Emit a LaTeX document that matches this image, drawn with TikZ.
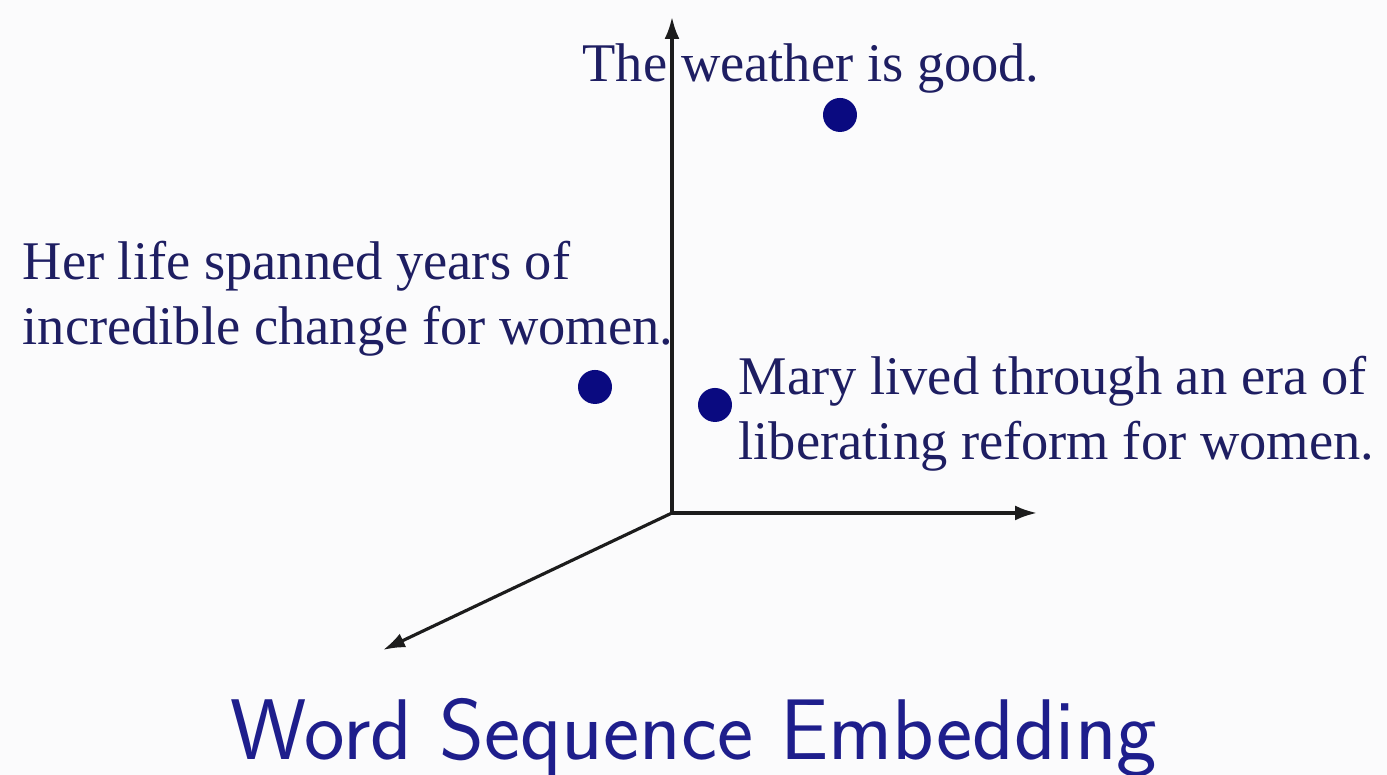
\documentclass[tikz,border=0pt]{standalone}
\usepackage{fontspec}
\newfontfamily\tnr{Liberation Serif}
\usetikzlibrary{arrows.meta}
\definecolor{bg}{HTML}{FBFBFC}
\definecolor{txt}{HTML}{1E1E62}
\definecolor{dotc}{HTML}{0A0A80}
\definecolor{ttl}{HTML}{1E1E8C}
\definecolor{axc}{HTML}{1C1C1C}
\tikzset{
  axis/.style={draw=axc, line width=0.9pt, -{Latex[length=0.22cm,width=0.15cm]}},
  pt/.style={circle, fill=dotc, inner sep=0pt, minimum size=0.34cm},
  lbl/.style={text=txt, inner sep=0pt, anchor=base west, align=left,
    font=\tnr\fontsize{15.5pt}{18.5pt}\selectfont},
  ttlstyle/.style={text=ttl, inner sep=0pt, anchor=base,
    font=\sffamily\fontsize{24.5pt}{29pt}\selectfont}
}
\begin{document}
\begin{tikzpicture}
\fill[bg] (0,0) rectangle (13.87,7.75);
\useasboundingbox (0,0) rectangle (13.87,7.75);
\coordinate (O) at (6.72,2.62);
\coordinate (ytip) at (6.72,7.58);
\coordinate (xtip) at (10.37,2.62);
\coordinate (ztip) at (3.83,1.25);
\draw[axis] (O) -- (ytip);
\draw[axis] (O) -- (xtip);
\draw[axis] (O) -- (ztip);
\node[pt] (p1) at (8.40,6.60) {};
\node[pt] (p2) at (5.95,3.88) {};
\node[pt] (p3) at (7.15,3.70) {};
\node[lbl] (t1) at (5.82,6.93) {The weather is good.};
\node[lbl] (t2) at (0.22,4.30) {Her life spanned years of\\incredible change for women.};
\node[lbl] (t3) at (7.38,3.15) {Mary lived through an era of\\liberating reform for women.};
\node[ttlstyle] (title) at (6.94,0.15) {Word Sequence Embedding};
\end{tikzpicture}
\end{document}
